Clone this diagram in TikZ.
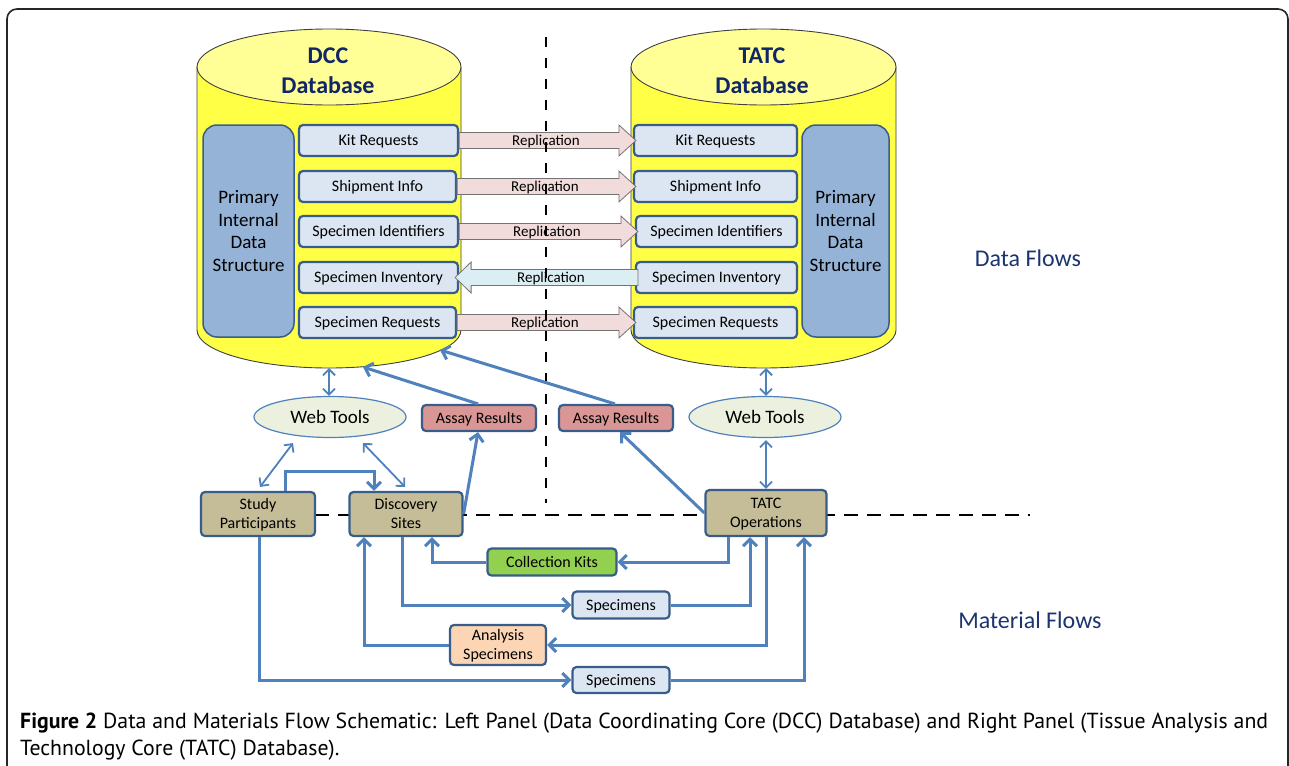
\documentclass[tikz,border=0pt]{standalone}
\usepackage{fontspec}
\setmainfont{Carlito}
\newfontfamily\capfont{PT Sans}
\usetikzlibrary{arrows.meta,calc,shapes.geometric}
\definecolor{navy}{RGB}{16,38,102}
\definecolor{flownavy}{RGB}{28,52,112}
\definecolor{cylbodyc}{RGB}{255,255,70}
\definecolor{cyltopc}{RGB}{255,255,150}
\definecolor{primc}{RGB}{149,179,215}
\definecolor{edgec}{RGB}{56,93,138}
\definecolor{itemc}{RGB}{220,230,242}
\definecolor{pinkc}{RGB}{242,220,219}
\definecolor{cyanc}{RGB}{219,238,244}
\definecolor{connc}{RGB}{79,129,189}
\definecolor{webc}{RGB}{235,241,222}
\definecolor{assayc}{RGB}{217,150,148}
\definecolor{tanc}{RGB}{196,189,151}
\definecolor{kitc}{RGB}{146,208,80}
\definecolor{peachc}{RGB}{252,213,181}
\newcommand\fsz[2]{\fontsize{#1pt}{#2pt}\selectfont}
% right-pointing block arrow from #1.east to #2.west
\newcommand\replright[4]{%
  \path[repl, fill=#3] let \p1=(#1.east), \p2=(#2.west) in
    (\x1,\y1+8pt) -- (\x2-14pt,\y1+8pt) -- (\x2-14pt,\y1+15.5pt) -- (\x2+3pt,\y1)
    -- (\x2-14pt,\y1-15.5pt) -- (\x2-14pt,\y1-8pt) -- (\x1,\y1-8pt) -- cycle;
  \coordinate (#4) at ($(#1.east)!0.5!(#2.west)$);}
% left-pointing block arrow from #2.west to #1.east
\newcommand\replleft[4]{%
  \path[repl, fill=#3] let \p1=(#1.east), \p2=(#2.west) in
    (\x2+3pt,\y1+8pt) -- (\x1+12pt,\y1+8pt) -- (\x1+12pt,\y1+15.5pt) -- (\x1-4pt,\y1)
    -- (\x1+12pt,\y1-15.5pt) -- (\x1+12pt,\y1-8pt) -- (\x2+3pt,\y1-8pt) -- cycle;
  \coordinate (#4) at ($(#1.east)!0.5!(#2.west)$);}
\begin{document}
\begin{tikzpicture}[x=1pt,y=-1pt,
  cylbody/.style={fill=cylbodyc},
  cylline/.style={draw=black!75, line width=0.9pt},
  cyltop/.style={fill=cyltopc, draw=black!75, line width=0.9pt},
  dbtitle/.style={font=\bfseries\fsz{24}{30}, text=navy, align=center, inner sep=0},
  prim/.style={draw=edgec, line width=1.5pt, fill=primc, rounded corners=14pt,
    minimum width=#1, minimum height=212pt, inner sep=0, align=center,
    font=\fsz{19}{22.7}},
  item/.style={draw=edgec, line width=2.2pt, fill=itemc, rounded corners=4pt,
    minimum width=#1, minimum height=31pt, inner sep=0, text depth=0.5pt, font=\fsz{16}{18}},
  repl/.style={draw=black!55, line width=0.8pt},
  repltext/.style={font=\fsz{15}{17}, inner sep=0, text depth=0.5pt},
  bbox/.style={draw=edgec, line width=2.2pt, rounded corners=4pt, inner sep=0,
    align=center, text depth=0.5pt, font=\fsz{16}{19}},
  webtool/.style={ellipse, draw=connc, line width=1.2pt, fill=webc,
    minimum width=152pt, minimum height=41pt, inner sep=0, font=\fsz{19}{21}},
  conn/.style={draw=connc, line width=3pt, -{Straight Barb[length=7pt,width=14pt]}},
  dbl/.style={draw=connc, line width=1.8pt,
    {Straight Barb[length=6pt,width=12pt]}-{Straight Barb[length=6pt,width=12pt]}},
  sepline/.style={draw=black, line width=2.8pt},
  flowlbl/.style={font=\fsz{24}{26}, text=flownavy, inner sep=0},
  caption/.style={font=\capfont\fsz{21.8}{25}, anchor=base west, inner sep=0}
]
\useasboundingbox (0,0) rectangle (1289,765);
\fill[white] (0,0) rectangle (1289,765);
% frame
\draw[line width=1.6pt, black!85, rounded corners=10pt] (7,775) -- (7,9) -- (1288,9) -- (1288,775);

% ---------- cylinders ----------
\fill[cylbody] (197,67) -- (197,330) arc[start angle=180,end angle=360,x radius=132pt,y radius=38pt] -- (461,67) -- cycle;
\draw[cylline] (197,67) -- (197,330) arc[start angle=180,end angle=360,x radius=132pt,y radius=38pt] -- (461,67);
\filldraw[cyltop] (329,67) ellipse[x radius=132pt, y radius=38pt];
\fill[cylbody] (631,67) -- (631,330) arc[start angle=180,end angle=360,x radius=132.5pt,y radius=38pt] -- (896,67) -- cycle;
\draw[cylline] (631,67) -- (631,330) arc[start angle=180,end angle=360,x radius=132.5pt,y radius=38pt] -- (896,67);
\filldraw[cyltop] (763.5,67) ellipse[x radius=132.5pt, y radius=38pt];
\coordinate (dccbot) at (329,368);
\coordinate (dccA) at (363,367);
\coordinate (dccB) at (440,350);
\coordinate (tatcbot) at (766,368);

\node[dbtitle] (dcct) at (328,71) {DCC\\Database};
\node[dbtitle] (tatct) at (762,71) {TATC\\Database};

% primary structures
\node[prim=91pt] (p1) at (248.5,231) {Primary\\Internal\\Data\\Structure};
\node[prim=87pt] (p2) at (845.5,231) {Primary\\Internal\\Data\\Structure};

% items
\node[item=159pt] (d1) at (378.5,140.5) {Kit Requests};
\node[item=157pt] (d2) at (377.5,186.5) {Shipment Info};
\node[item=159pt] (d3) at (378.5,231.5) {Specimen Identifiers};
\node[item=159pt] (d4) at (378.5,277.5) {Specimen Inventory};
\node[item=157pt] (d5) at (377.5,322.5) {Specimen Requests};
\node[item=163pt] (t1) at (715.5,140.5) {Kit Requests};
\node[item=163pt] (t2) at (715.5,186.5) {Shipment Info};
\node[item=161pt] (t3) at (716.5,231.5) {Specimen Identifiers};
\node[item=161pt] (t4) at (716.5,277.5) {Specimen Inventory};
\node[item=163pt] (t5) at (715.5,322.5) {Specimen Requests};

% replication arrows
\replright{d1}{t1}{pinkc}{r1}
\replright{d2}{t2}{pinkc}{r2}
\replright{d3}{t3}{pinkc}{r3}
\replleft{d4}{t4}{cyanc}{r4}
\replright{d5}{t5}{pinkc}{r5}

% separators
\draw[sepline, dash pattern=on 10pt off 11pt] (546,37) -- (546,503);
\draw[sepline, dash pattern=on 14pt off 9pt] (200,515) -- (1030,515);

\node[repltext] (rl1) at (r1) {Replication};
\node[repltext] (rl2) at (r2) {Replication};
\node[repltext] (rl3) at (r3) {Replication};
\node[repltext] (rl4) at ([xshift=4pt]r4) {Replication};
\node[repltext] (rl5) at (r5) {Replication};

% ---------- lower nodes ----------
\node[webtool] (wt1) at (330,417) {Web Tools};
\node[webtool] (wt2) at (765,417) {Web Tools};
\node[bbox, fill=assayc, minimum width=114pt, minimum height=26pt] (ar1) at (479,418) {Assay Results};
\node[bbox, fill=assayc, minimum width=114pt, minimum height=26pt] (ar2) at (616,418) {Assay Results};
\node[bbox, fill=tanc, minimum width=114pt, minimum height=44pt] (sp) at (258,514) {Study\\Participants};
\node[bbox, fill=tanc, minimum width=113pt, minimum height=44pt] (ds) at (406,514) {Discovery\\Sites};
\node[bbox, fill=tanc, minimum width=121pt, minimum height=46pt] (tops) at (766,513) {TATC\\Operations};
\node[bbox, fill=kitc, minimum width=129pt, minimum height=27pt] (ck) at (552,562) {Collection Kits};
\node[bbox, fill=itemc, minimum width=97pt, minimum height=27pt] (spec1) at (621,605) {Specimens};
\node[bbox, fill=peachc, minimum width=96pt, minimum height=40pt] (ansp) at (498,645) {Analysis\\Specimens};
\node[bbox, fill=itemc, minimum width=97pt, minimum height=26pt] (spec2) at (621,680) {Specimens};

\node[flowlbl] (df) at (1028,258) {Data Flows};
\node[flowlbl] (mf) at (1030,620) {Material Flows};

% ---------- connectors ----------
\draw[dbl] (wt1.north -| dccbot) -- (dccbot);
\draw[dbl] (wt2.north -| tatcbot) -- (tatcbot);
\draw[dbl] ($(wt1.south)+(-37,5)$) -- ($(sp.north)+(2,-4)$);
\draw[dbl] ($(wt1.south)+(33,5)$) -- ($(ds.north)+(-1,-4)$);
\draw[dbl] ($(wt2.south)+(1,2)$) -- (tops.north);

\draw[conn] ([xshift=27pt]sp.north) |- ($(ds.north)+(-32,-19)$) -- ([xshift=-32pt]ds.north);
\draw[conn] (ds.east) -- ($(ar1.south)+(-1,0)$);
\draw[conn] ($(ar1.north)+(-1,0)$) -- (dccA);
\draw[conn] ($(ar2.north)+(-1,0)$) -- (dccB);
\draw[conn] (tops.west) -- ($(ar2.south)+(4,0)$);
\draw[conn] ([xshift=-38pt]tops.south) |- (ck.east);
\draw[conn] (ck.west) -| ([xshift=26pt]ds.south);
\draw[conn] ([xshift=-4pt]ds.south) |- (spec1.west);
\draw[conn] (spec1.east) -| ([xshift=-16pt]tops.south);
\draw[conn] (tops.south) |- (ansp.east);
\draw[conn] (ansp.west) -| ([xshift=-42pt]ds.south);
\draw[conn] ([xshift=1pt]sp.south) |- (spec2.west);
\draw[conn] (spec2.east) -| ([xshift=38pt]tops.south);

% ---------- caption ----------
\node[caption] (cap1) at (20,728) {\makebox[1248pt][s]{\textbf{Figure 2} Data and Materials Flow Schematic: Left Panel (Data Coordinating Core (DCC) Database) and Right Panel (Tissue Analysis and}};
\node[caption] (cap2) at (20,755) {Technology Core (TATC) Database).};
\end{tikzpicture}
\end{document}
